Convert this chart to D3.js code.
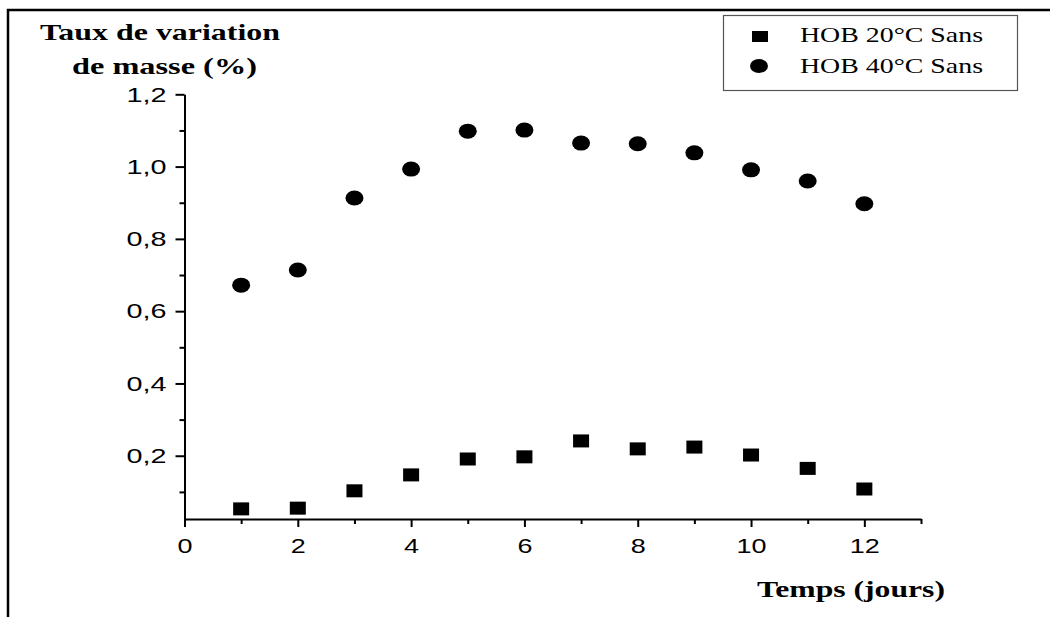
<!DOCTYPE html>
<html>
<head>
<meta charset="utf-8">
<script src="https://cdn.jsdelivr.net/npm/d3@7"></script>
<style>
  body { margin: 0; background: #fff; }
  svg { display: block; }
</style>
</head>
<body>
<main></main>
<script>
// data
const days = [1, 2, 3, 4, 5, 6, 7, 8, 9, 10, 11, 12];
const hob20 = [0.053, 0.055, 0.103, 0.147, 0.191, 0.197, 0.241, 0.219, 0.224, 0.202, 0.165, 0.108];
const hob40 = [0.672, 0.714, 0.913, 0.993, 1.098, 1.101, 1.065, 1.063, 1.038, 0.991, 0.960, 0.897];
const xTicks = [0, 2, 4, 6, 8, 10, 12];
const yTicks = [0.2, 0.4, 0.6, 0.8, 1.0, 1.2];
const legendLabels = ["HOB 20°C Sans", "HOB 40°C Sans"];

const w = 1050;
const h = 617;

const svg = d3.select("main")
  .append("svg")
  .attr("width", w)
  .attr("height", h);

// frame (top and left lines only)
svg.append("path")
  .attr("d", `M8,${h} L8,10 L${w},10`)
  .attr("fill", "none")
  .attr("stroke", "#000")
  .attr("stroke-width", 2.5);

const scaleX = d3.scaleLinear().domain([0, 13]).range([184.5, 921]);
const scaleY = d3.scaleLinear().domain([0.025, 1.2]).range([519, 94.3]);

const fmt = d => d3.format(".1f")(d).replace(".", ",");

// the original text is stretched sideways, so fit each label to its measured width
const stretch = (sel, len) => sel.attr("textLength", len).attr("lengthAdjust", "spacingAndGlyphs");

// minor ticks
const axisXMinor = d3.axisBottom(scaleX).tickValues(d3.range(1, 14, 2)).tickSize(5).tickFormat("");
const axisYMinor = d3.axisLeft(scaleY).tickValues([0.1, 0.3, 0.5, 0.7, 0.9, 1.1]).tickSize(5).tickFormat("");

svg.append("g")
  .attr("transform", "translate(0,519)")
  .call(axisXMinor)
  .call(g => g.select(".domain").remove());
svg.append("g")
  .attr("transform", "translate(184.5,0)")
  .call(axisYMinor)
  .call(g => g.select(".domain").remove());

// major axes
const axisX = d3.axisBottom(scaleX).tickValues(xTicks).tickSize(8).tickSizeOuter(0);
const axisY = d3.axisLeft(scaleY).tickValues(yTicks).tickSize(9).tickSizeOuter(0).tickFormat(fmt);

const gx = svg.append("g")
  .attr("transform", "translate(0,519)")
  .call(axisX);
const gy = svg.append("g")
  .attr("transform", "translate(184.5,0)")
  .call(axisY);

svg.selectAll(".tick line, .domain").attr("stroke", "#000").attr("stroke-width", 2);
[gx, gy].forEach(g => g.selectAll("text")
  .attr("fill", "#000")
  .style("font-family", "'Liberation Sans', Arial, sans-serif")
  .style("font-size", "21px"));
gx.selectAll("text")
  .attr("y", 34)
  .attr("dy", 0)
  .each(function (d) { stretch(d3.select(this), String(d).length * 15); });
gy.selectAll("text")
  .attr("x", -18)
  .each(function () { stretch(d3.select(this), 40); });

// points
svg.append("g").selectAll("rect")
  .data(days)
  .enter()
  .append("rect")
  .attr("x", (d) => scaleX(d) - 8)
  .attr("y", (d, i) => scaleY(hob20[i]) - 6.5)
  .attr("width", 16)
  .attr("height", 13)
  .attr("fill", "#000");

svg.append("g").selectAll("ellipse")
  .data(days)
  .enter()
  .append("ellipse")
  .attr("cx", (d) => scaleX(d))
  .attr("cy", (d, i) => scaleY(hob40[i]))
  .attr("rx", 9)
  .attr("ry", 7.5)
  .attr("fill", "#000");

// axis titles
const serif = "'Liberation Serif', 'Times New Roman', serif";
const yTitle = svg.append("text")
  .style("font-family", serif)
  .style("font-weight", "bold")
  .style("font-size", "23px");
stretch(yTitle.append("tspan").attr("x", 40).attr("y", 40).text("Taux de variation"), 240);
stretch(yTitle.append("tspan").attr("x", 72).attr("y", 74).text("de masse (%)"), 185);

stretch(svg.append("text")
  .attr("x", 757)
  .attr("y", 597)
  .style("font-family", serif)
  .style("font-weight", "bold")
  .style("font-size", "23px")
  .text("Temps (jours)"), 188);

// legend
const legend = svg.append("g");
legend.append("rect")
  .attr("x", 723.5).attr("y", 15.5)
  .attr("width", 294).attr("height", 75)
  .attr("fill", "#fff")
  .attr("stroke", "#555")
  .attr("stroke-width", 1.2);
legend.append("rect").attr("x", 752).attr("y", 31).attr("width", 16).attr("height", 11).attr("fill", "#000");
legend.append("ellipse").attr("cx", 759).attr("cy", 66).attr("rx", 9).attr("ry", 7).attr("fill", "#000");
legend.selectAll("text.lab")
  .data(legendLabels)
  .enter()
  .append("text")
  .attr("class", "lab")
  .attr("x", 800)
  .attr("y", (d, i) => 42 + i * 31)
  .style("font-family", serif)
  .style("font-size", "22px")
  .text(d => d)
  .each(function () { stretch(d3.select(this), 183); });
</script>
</body>
</html>
